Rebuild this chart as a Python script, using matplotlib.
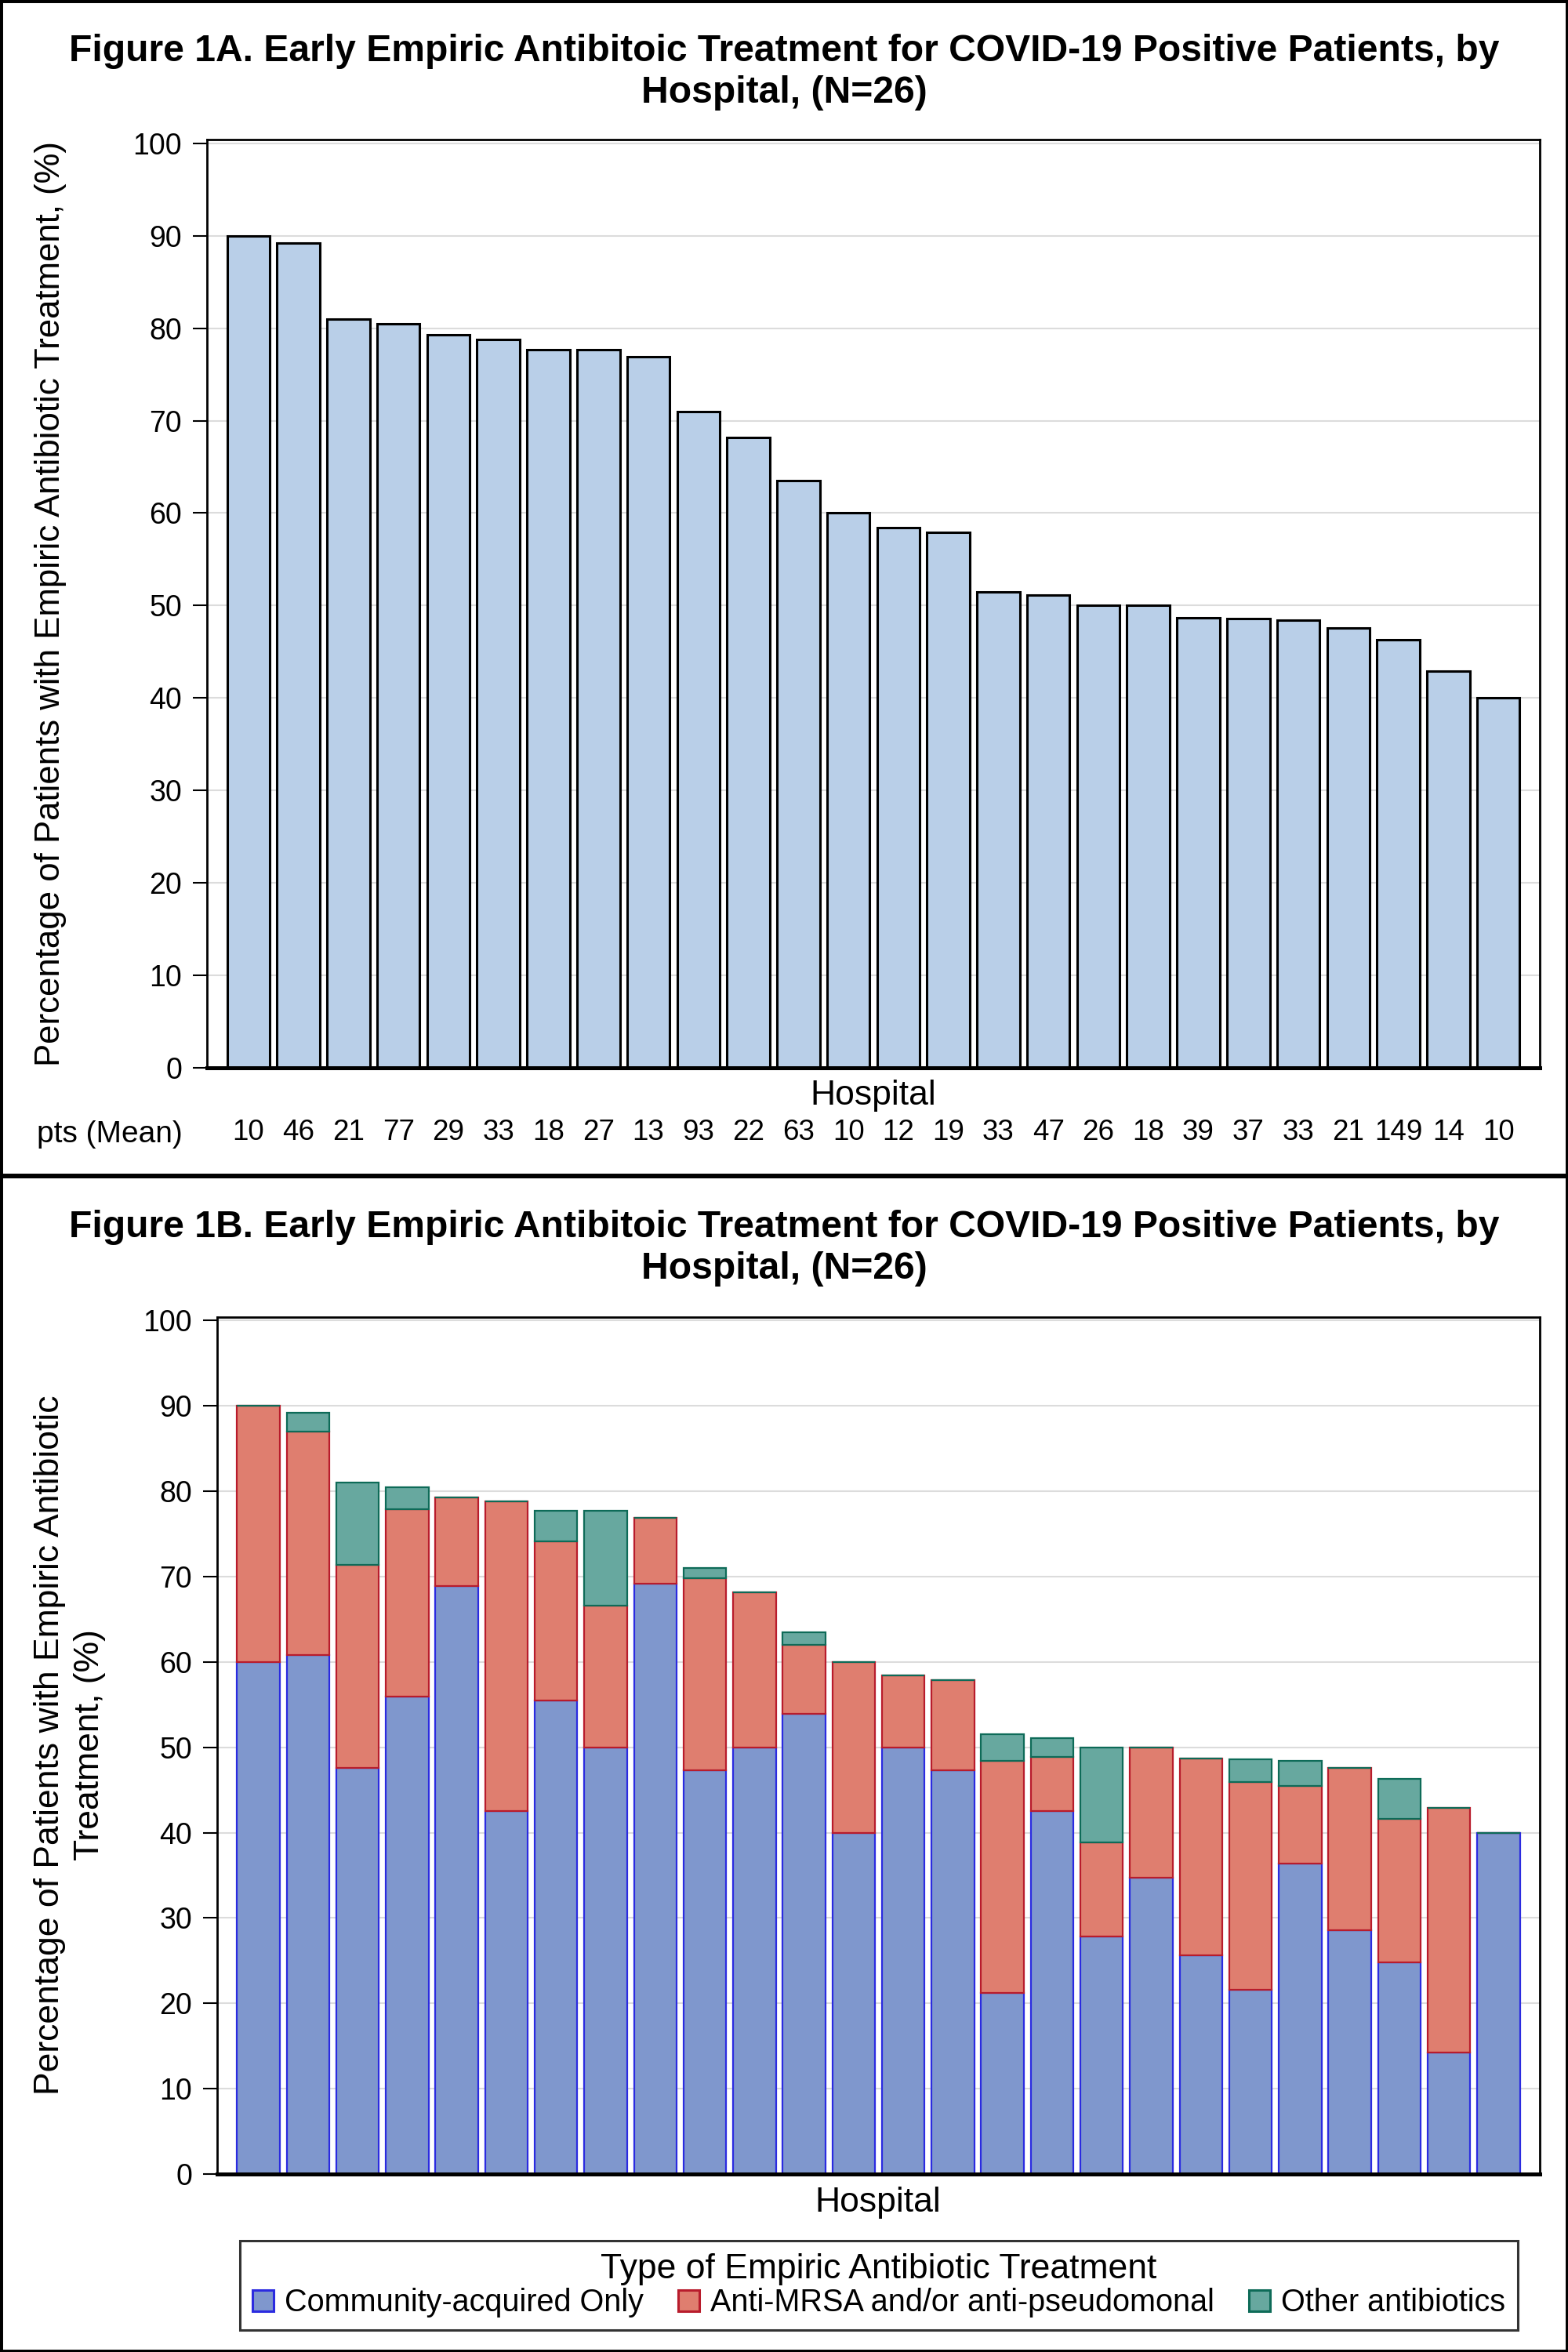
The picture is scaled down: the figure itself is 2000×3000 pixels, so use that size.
import numpy as np
import matplotlib
matplotlib.use('Agg')
import matplotlib.pyplot as plt
from matplotlib.patches import Patch, Rectangle
import matplotlib.transforms as mtransforms

plt.rcParams['font.family'] = ['Liberation Sans', 'DejaVu Sans']

# ── data ─────────────────────────────────────────────────────────
pts_mean = [10, 46, 21, 77, 29, 33, 18, 27, 13, 93, 22, 63, 10,
            12, 19, 33, 47, 26, 18, 39, 37, 33, 21, 149, 14, 10]

pct_any = [90.0, 89.2, 81.0, 80.5, 79.3, 78.8, 77.7, 77.7, 76.9, 71.0,
           68.2, 63.5, 60.0, 58.4, 57.9, 51.5, 51.1, 50.0, 50.0, 48.7,
           48.6, 48.4, 47.6, 46.3, 42.9, 40.0]

pct_comm = [60.0, 60.8, 47.6, 55.9, 68.9, 42.5, 55.5, 50.0, 69.2, 47.3,
            50.0, 53.9, 40.0, 50.0, 47.3, 21.2, 42.5, 27.8, 34.7, 25.6,
            21.6, 36.4, 28.6, 24.8, 14.2, 40.0]
pct_anti = [30.0, 26.2, 23.8, 22.0, 10.4, 36.3, 18.6, 16.6, 7.7, 22.5,
            18.2, 8.1, 20.0, 8.4, 10.6, 27.2, 6.4, 11.1, 15.3, 23.1,
            24.3, 9.1, 19.0, 16.8, 28.7, 0.0]
pct_other = [0.0, 2.2, 9.6, 2.6, 0.0, 0.0, 3.6, 11.1, 0.0, 1.2,
             0.0, 1.5, 0.0, 0.0, 0.0, 3.1, 2.2, 11.1, 0.0, 0.0,
             2.7, 2.9, 0.0, 4.7, 0.0, 0.0]

series_labels = ['Community-acquired Only', 'Anti-MRSA and/or anti-pseudomonal',
                 'Other antibiotics']

TITLE_A = ('Figure 1A. Early Empiric Antibitoic Treatment for COVID-19 Positive Patients, by\n'
           'Hospital, (N=26)')
TITLE_B = ('Figure 1B. Early Empiric Antibitoic Treatment for COVID-19 Positive Patients, by\n'
           'Hospital, (N=26)')

# ── style ────────────────────────────────────────────────────────
A_FILL = '#B9CFE8'
FILLS = ['#7F97CD', '#DF7E6F', '#67A89F']
EDGES = ['#2B2BE0', '#B81C2C', '#0E6B58']
GRID_C = '#DCDCDC'

W, H = 2000, 3000
fig = plt.figure(figsize=(20, 30), dpi=100)


def fy(px):
    return 1 - px / H


def style_axes(ax):
    ax.set_xlim(-0.83, len(pct_any) - 1 + 0.83)
    ax.set_ylim(0, 100.4)
    ax.set_yticks(np.arange(0, 101, 10))
    ax.set_xticks([])
    ax.yaxis.grid(True, color=GRID_C, linewidth=1.5)
    ax.set_axisbelow(True)
    ax.tick_params(axis='y', length=13, width=1.5, pad=10, labelsize=27)
    for s in ['left', 'top', 'right']:
        ax.spines[s].set_linewidth(2.0)
    ax.spines['bottom'].set_linewidth(3.6)


x = np.arange(len(pct_any))

# ── Panel A ──────────────────────────────────────────────────────
axA = fig.add_axes([264 / W, fy(1362), 1700 / W, (1362 - 178) / H])
style_axes(axA)
axA.bar(x, pct_any, width=0.855, color=A_FILL, edgecolor='black', linewidth=2.2)

fig.text(0.5, fy(92), TITLE_A, ha='center', va='center', fontsize=34.6,
         fontweight='bold', linespacing=1.21)
fig.text(1114 / W, fy(1397), 'Hospital', ha='center', va='center', fontsize=32)
fig.text(65 / W, fy(770), 'Percentage of Patients with Empiric Antibiotic Treatment, (%)',
         rotation=90, ha='center', va='center', fontsize=31.5)

trans = mtransforms.blended_transform_factory(axA.transData, fig.transFigure)
for xi, n in zip(x, pts_mean):
    axA.text(xi, fy(1445), str(n), transform=trans, ha='center', va='center',
             fontsize=26.5)
fig.text(47 / W, fy(1447), 'pts (Mean)', ha='left', va='center', fontsize=28)

# ── Panel B ──────────────────────────────────────────────────────
axB = fig.add_axes([277 / W, fy(2773), 1687 / W, (2773 - 1680) / H])
style_axes(axB)
bottom = np.zeros(len(x))
for vals, fc, ec, lab in zip([pct_comm, pct_anti, pct_other], FILLS, EDGES, series_labels):
    axB.bar(x, vals, bottom=bottom, width=0.86, color=fc, edgecolor=ec,
            linewidth=1.6, label=lab)
    bottom = bottom + np.array(vals)

fig.text(0.5, fy(1592), TITLE_B, ha='center', va='center', fontsize=34.6,
         fontweight='bold', linespacing=1.21)
fig.text(1120 / W, fy(2810), 'Hospital', ha='center', va='center', fontsize=32)
fig.text(89 / W, fy(2226), 'Percentage of Patients with Empiric Antibiotic\nTreatment, (%)',
         rotation=90, ha='center', va='center', fontsize=32, linespacing=1.3,
         multialignment='center')

handles = [Patch(facecolor=fc, edgecolor=ec, linewidth=2.2) for fc, ec in zip(FILLS, EDGES)]
leg = fig.legend(handles, series_labels, loc='center', ncol=3,
                 bbox_to_anchor=(1121 / W, fy(2915)),
                 title='Type of Empiric Antibiotic Treatment', title_fontsize=32,
                 fontsize=28.5, frameon=True, fancybox=False, edgecolor='black',
                 handlelength=0.7, handleheight=0.7, handletextpad=0.35,
                 columnspacing=1.1, borderpad=0.4, labelspacing=0.1)
leg.get_frame().set_linewidth(2.2)

# ── frames ───────────────────────────────────────────────────────
fig.add_artist(Rectangle((0, 0), 1, 1, transform=fig.transFigure, fill=False,
                         edgecolor='black', linewidth=5))
fig.add_artist(plt.Line2D([0, 1], [fy(1500), fy(1500)], transform=fig.transFigure,
                          color='black', linewidth=4.3))

fig.savefig('out.png', dpi=100)
